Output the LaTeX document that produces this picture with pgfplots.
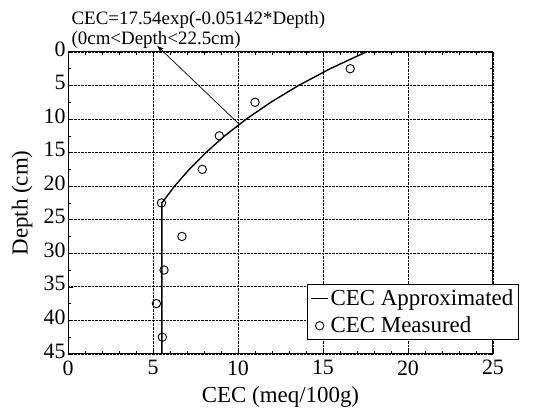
\documentclass[border=0pt]{standalone}
\usepackage{pgfplots}
\pgfplotsset{compat=1.18}
\usepackage{fontspec}
\setmainfont{Liberation Serif}
\usetikzlibrary{arrows.meta}

\begin{document}
\begin{tikzpicture}
\begin{axis}[
    scale only axis,
    width=425bp, height=302bp,
    xmin=0, xmax=25, ymin=0, ymax=45,
    y dir=reverse,
    xtick={0,5,...,25}, ytick={0,5,...,45},
    minor x tick num=4, minor y tick num=1,
    tick align=inside,
    major tick length=5bp, minor tick length=3bp,
    grid=major,
    major grid style={densely dotted, black, line width=0.8pt},
    axis line style={line width=1pt},
    tick style={black, line width=0.6pt},
    /pgf/number format/assume math mode=true,
    ticklabel style={font=\fontsize{22}{24}\selectfont},
    xticklabel style={anchor=north, yshift=-3bp},
    yticklabel style={anchor=east, xshift=1bp, yshift=3bp},
    xlabel={CEC (meq/100g)},
    ylabel={Depth (cm)},
    label style={font=\fontsize{23}{25}\selectfont},
    xlabel style={at={(axis description cs:0.5,-0.142)}, anchor=center},
    ylabel style={at={(axis description cs:-0.108,0.5)}, anchor=center},
    clip=false,
    legend style={at={(rel axis cs:1.061,0.046)}, anchor=south east,
        font=\fontsize{23}{25}\selectfont, draw=black, line width=1.2pt,
        inner sep=3bp, row sep=6bp},
    legend cell align=left,
    legend image post style={line width=1pt},
]
% fitted curve CEC = 17.54 exp(-0.05142 Depth), tabulated, then constant below 22.5 cm
\addplot[black, line width=1.4pt] coordinates {
    (17.54,0) (15.42,2.5) (13.56,5) (11.93,7.5) (10.49,10) (9.22,12.5)
    (8.11,15) (7.13,17.5) (6.27,20) (5.52,22.5) (5.52,30) (5.52,45)
};
\addlegendentry{CEC Approximated}
\addplot[only marks, mark=o, mark size=4.2bp, black, mark options={line width=0.9pt}] coordinates {
    (16.6,2.5) (11.0,7.5) (8.9,12.5) (7.9,17.5) (5.5,22.5)
    (6.7,27.5) (5.65,32.5) (5.2,37.5) (5.55,42.5)
};
\addlegendentry{CEC Measured}

\draw[-{Stealth[length=7bp,width=5bp]}, line width=0.7pt] (axis cs:10,10.6) -- (axis cs:5.25,-0.9);
\node[anchor=south west, align=left, inner sep=0pt,
      font=\fontsize{19}{20}\selectfont] at (rel axis cs:0.008,1.012)
    {CEC=17.54exp(-0.05142*Depth)\\(0cm<Depth<22.5cm)};
\path (rel axis cs:-0.16,-0.215) rectangle (rel axis cs:1.0965,1.172);
\end{axis}
\end{tikzpicture}
\end{document}
